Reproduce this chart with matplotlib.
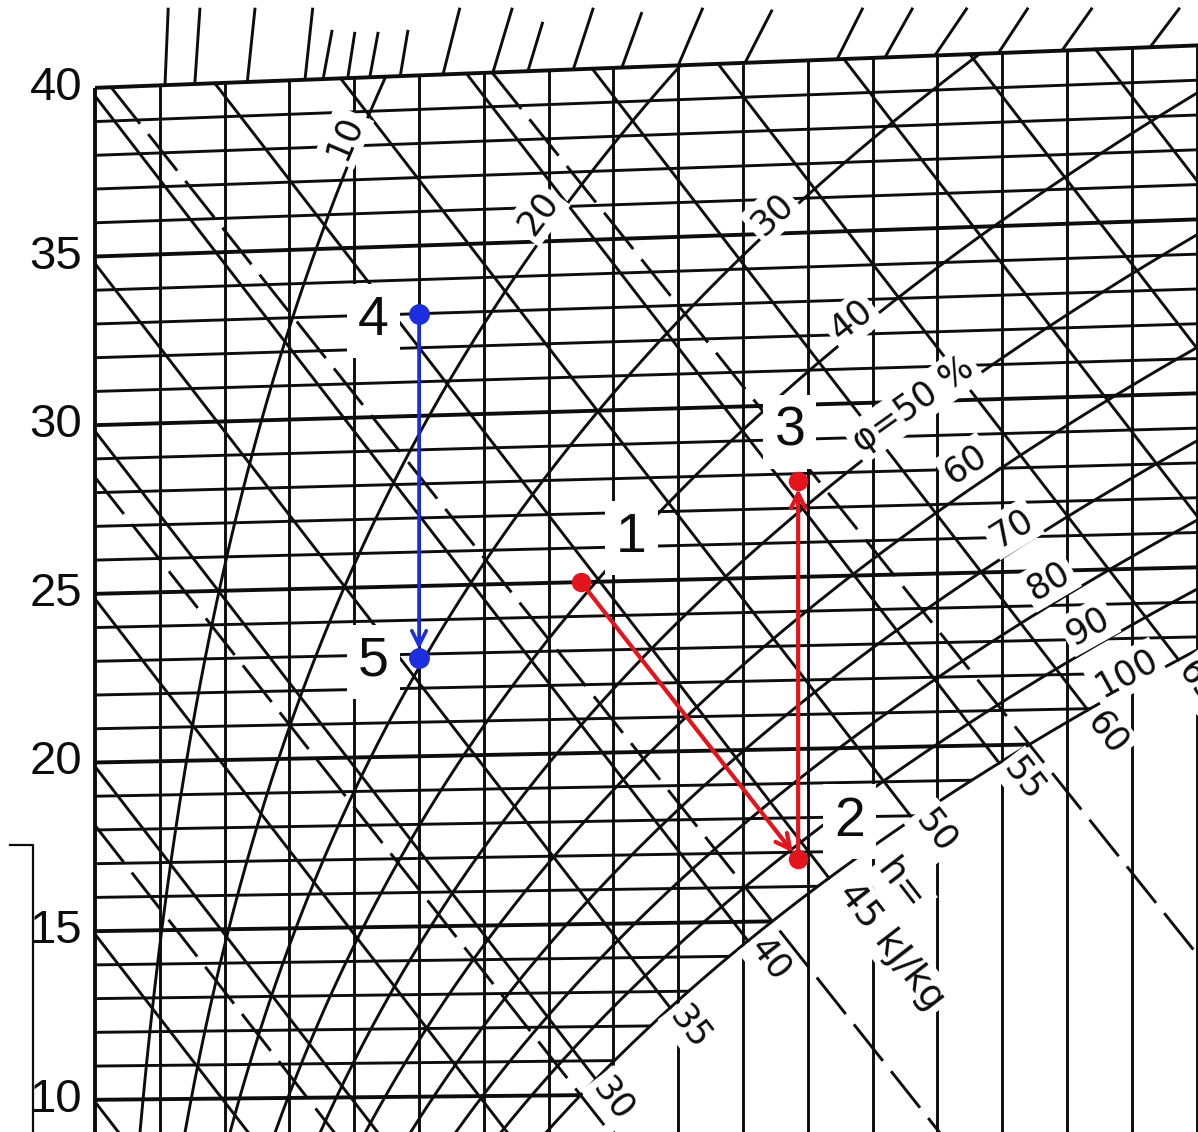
import numpy as np
import matplotlib
matplotlib.use("Agg")
import matplotlib.pyplot as plt

# Mollier h,x chart constants
P_TOTAL = 103.0     # kPa
CP_AIR = 1.006      # kJ/(kg K)
CP_VAP = 0.00186    # kJ/(kg K) per g/kg of moisture
R_0 = 2.501         # kJ per g of evaporated water
C_WATER = 0.00419   # kJ/(kg K) per g/kg of liquid water

# line families of the chart
isotherm_t = list(range(10, 41))                        # degC
moisture_x = list(range(0, 18))                         # g/kg
enthalpy_h = list(range(10, 85, 5))                     # kJ/kg
wet_bulb_t = [5, 10, 15, 20]                            # degC
rh_levels = [10, 20, 30, 40, 50, 60, 70, 80, 90, 100]   # %

# labels
temp_ticks = [10, 15, 20, 25, 30, 35, 40]
rh_text = ['10', '20', '30', '40', 'φ=50 %', '60', '70', '80', '90', '100']
rh_text_t = [38.6, 36.0, 35.2, 32.5, 30.4, 28.4, 26.5, 24.9, 23.5, 21.9]
# label shift from the curve, in pixels (right, down)
rh_text_shift = [(-20, 12), (-27, 7), (-1, -13), (-23, 4), (-48, 18),
                 (-57, 10), (-53, 10), (-55, 8), (-51, 5), (-22, -3)]
h_text = ['30', '35', '40', '50', '55', '60', '65']
h_text_val = [30, 35, 40, 50, 55, 60, 65]
h_text_shift = [(26, 2), (28, 4), (28, 6), (24, 11), (28, 10), (30, 2), (30, 2)]

# ticks of the upper scale standing over the 40 degC border
stub_x0 = [1.08, 1.54, 2.35, 3.24, 3.52, 3.90, 4.24, 4.71, 5.37, 6.14, 6.68,
           7.38, 8.13, 9.00, 10.03, 11.45, 12.19, 12.96, 13.94, 14.92, 16.28]
stub_x1 = [1.13, 1.62, 2.47, 3.36, 3.66, 4.01, 4.37, 4.83, 5.63, 6.44, 6.91,
           7.69, 8.44, 9.38, 10.45, 11.85, 12.62, 13.46, 14.40, 15.39, 16.74]
stub_y1 = [42.63, 42.63, 42.63, 42.63, 41.97, 41.91, 41.91, 41.97, 42.63, 42.63,
           42.21, 42.63, 42.50, 42.63, 42.57, 42.63, 42.63, 42.63, 42.63, 42.63, 42.63]

# bracket of the neighbouring scale on the far left
bracket_x = [-1.31, -0.96, -0.96]
bracket_y = [17.66, 17.66, 8.5]

# air states of the process
state_label = ['1', '2', '3', '4', '5']
state_x = [7.5, 10.85, 10.85, 5.0, 5.0]
state_t = [25.0, 16.8, 27.8, 33.0, 22.9]
state_off = [(36, 32), (37, 27), (-6, 35), (-33, -5), (-33, -3)]

RED = '#e3141b'
BLUE = '#1b2ee0'
INK = '#0d0d0d'


def p_sat(t):
    t = np.asarray(t, float)
    return 0.61094 * np.exp(17.625 * t / (t + 243.04))


def x_at(t, rh):
    pv = p_sat(t) * rh / 100.0
    return 622.0 * pv / (P_TOTAL - pv)


def ordinate(t, x):
    # h - r0*x, so the 0 degC isotherm lies horizontal
    return t * (CP_AIR + CP_VAP * np.asarray(x, float))


def enthalpy(t, x):
    return CP_AIR * t + x * (R_0 + CP_VAP * t)


t_fine = np.linspace(0, 45, 9001)
x_fine = x_at(t_fine, 100)
h_fine = enthalpy(t_fine, x_fine)
T_TOP = 40

fig = plt.figure(figsize=(11.98, 11.32), dpi=100)
ax = fig.add_axes([0, 0, 1, 1])
ax.set_xlim(-1.466, 17.02)
ax.set_ylim(9.10, 42.86)
ax.axis('off')

lw_thin = 2.1
lw_bold = 2.8

# constant moisture content
for x in moisture_x:
    ax.plot([x, x], [8, ordinate(T_TOP, x)], color=INK,
            lw=lw_bold if x == 0 else lw_thin, solid_capstyle='butt', zorder=2)

# isotherms up to the saturation line
for t in isotherm_t:
    xe = min(np.interp(t, t_fine, x_fine), 18)
    xs = np.array([0, xe])
    ax.plot(xs, ordinate(t, xs), color=INK,
            lw=lw_bold if t % 5 == 0 else lw_thin, solid_capstyle='butt', zorder=2)

# constant enthalpy
for h in enthalpy_h:
    x0 = max(0.0, (h - CP_AIR * T_TOP) / (R_0 + CP_VAP * T_TOP))
    ts = np.interp(h, h_fine, t_fine)
    x1 = np.interp(ts, t_fine, x_fine)
    xs = np.array([x0, x1])
    ax.plot(xs, h - R_0 * xs, color=INK, lw=lw_thin, zorder=2)

# wet-bulb lines, running on as fog isotherms
for tw in wet_bulb_t:
    xs_ = x_at(tw, 100)
    hs = enthalpy(tw, xs_)
    k = C_WATER * tw
    x0 = (hs - k * xs_ - CP_AIR * T_TOP) / (R_0 + CP_VAP * T_TOP - k)
    x0 = max(0.0, x0)
    xs = np.array([x0, 19])
    ax.plot(xs, hs + k * (xs - xs_) - R_0 * xs, color=INK, lw=lw_thin,
            ls=(0, (16, 4.5)), zorder=2)

# relative humidity curves
t_curve = np.linspace(5, T_TOP, 400)
for rh in rh_levels:
    xc = x_at(t_curve, rh)
    ax.plot(xc, ordinate(t_curve, xc), color=INK, lw=lw_thin, zorder=2)

# ticks over the top border
for a, b, yt in zip(stub_x0, stub_x1, stub_y1):
    ax.plot([a, b], [ordinate(T_TOP, a), yt], color=INK, lw=lw_thin,
            solid_capstyle='butt', zorder=2)

ax.plot(bracket_x, bracket_y, color=INK, lw=1.6, zorder=2)


def screen_angle(x0, y0, x1, y1):
    a = ax.transData.transform([(x0, y0), (x1, y1)])
    return np.degrees(np.arctan2(a[1, 1] - a[0, 1], a[1, 0] - a[0, 0]))


def px(dx, dy):
    # pixel shift (right, down) -> offset points
    return (dx * 0.72, -dy * 0.72)


box = dict(boxstyle='square,pad=0.12', fc='white', ec='none')

# temperature scale
for t in temp_ticks:
    ax.text(-0.2, ordinate(t, 0), str(t), ha='right', va='center',
            fontsize=34, family='Liberation Sans', color=INK, zorder=4)

# relative humidity labels
for txt, rh, tl, sh in zip(rh_text, rh_levels, rh_text_t, rh_text_shift):
    xa, xb = x_at(tl - 0.2, rh), x_at(tl + 0.2, rh)
    ang = screen_angle(xa, ordinate(tl - 0.2, xa), xb, ordinate(tl + 0.2, xb))
    xl = x_at(tl, rh)
    ax.annotate(txt, (xl, ordinate(tl, xl)), xytext=px(*sh), textcoords='offset points',
                rotation=ang, rotation_mode='anchor', ha='center', va='center',
                fontsize=25, color=INK, bbox=box, zorder=4, clip_on=True)

# enthalpy labels beyond the saturation line
h_ang = screen_angle(0, 0, 1, -R_0)
u = np.array([np.cos(np.radians(h_ang)), np.sin(np.radians(h_ang))])
n = np.array([-u[1], u[0]])
for txt, h, (du, dn) in zip(h_text, h_text_val, h_text_shift):
    ts = np.interp(h, h_fine, t_fine)
    xs_ = np.interp(ts, t_fine, x_fine)
    off = (du * u + dn * n) * 0.72
    ax.annotate(txt, (xs_, ordinate(ts, xs_)), xytext=off, textcoords='offset points',
                rotation=h_ang, rotation_mode='anchor', ha='center', va='center',
                fontsize=25, color=INK, bbox=box, zorder=4, clip_on=True)

ts45 = np.interp(45, h_fine, t_fine)
xs45 = np.interp(ts45, t_fine, x_fine)
for txt, du, dn in [('45 kJ/kg', 17, 7), ('h=', 22, 52)]:
    off = (du * u + dn * n) * 0.72
    ax.annotate(txt, (xs45, ordinate(ts45, xs45)), xytext=off, textcoords='offset points',
                rotation=h_ang, rotation_mode='anchor', ha='left', va='center',
                fontsize=27, color=INK, bbox=box, zorder=4)

# process
sx = np.array(state_x)
sy = ordinate(np.array(state_t), sx)


def arrow(i, j, color, lw):
    ax.annotate('', xy=(sx[j], sy[j]), xytext=(sx[i], sy[i]),
                arrowprops=dict(arrowstyle='->', color=color, lw=lw,
                                mutation_scale=26, shrinkA=0, shrinkB=6),
                zorder=6)


arrow(0, 1, RED, 3.0)
arrow(1, 2, RED, 3.0)
arrow(3, 4, BLUE, 2.6)
ax.plot(sx[:3], sy[:3], 'o', color=RED, ms=13, zorder=7)
ax.plot(sx[3:], sy[3:], 'o', color=BLUE, ms=14, zorder=7)

for name, x, y, off in zip(state_label, sx, sy, state_off):
    ax.annotate(name, (x, y), xytext=off, textcoords='offset points',
                ha='center', va='center', fontsize=40, family='Liberation Sans',
                color=INK, zorder=5,
                bbox=dict(boxstyle='square,pad=0.2', fc='white', ec='none'))

fig.savefig('out.png', dpi=100, facecolor='white')
